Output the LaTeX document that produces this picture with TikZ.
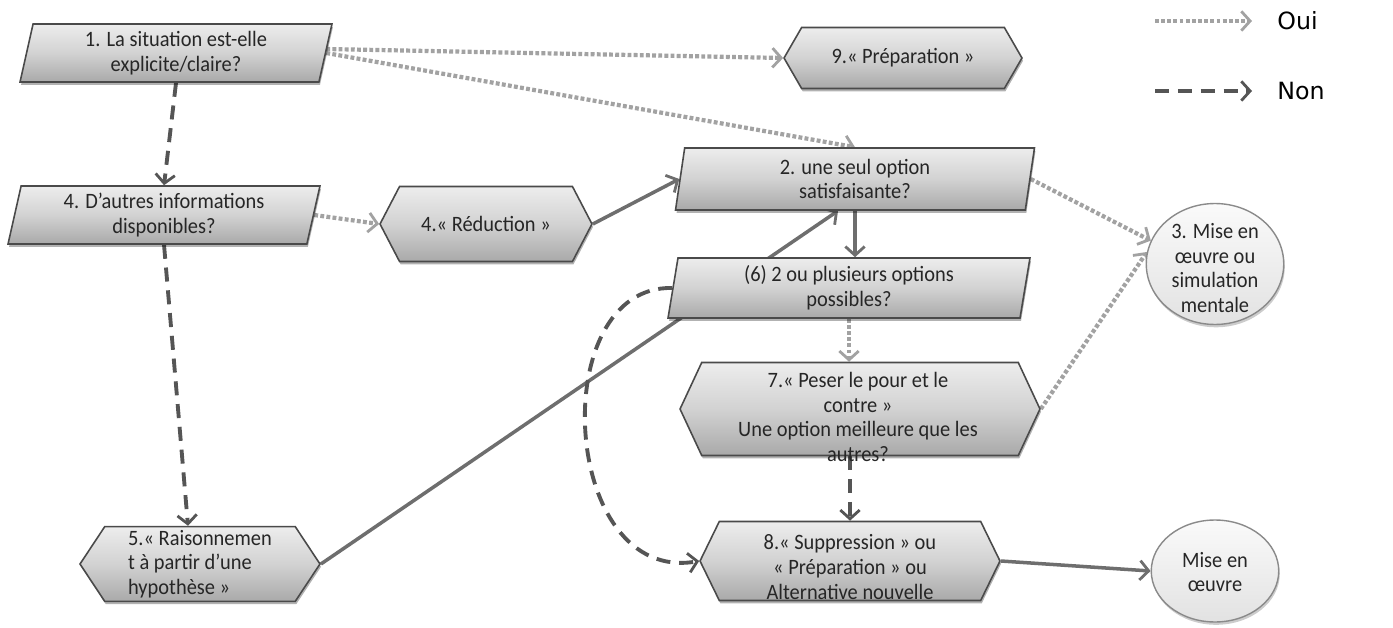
\documentclass[tikz,border=0pt]{standalone}
\usepackage{fontspec}
\setmainfont{Carlito}[FakeStretch=0.93]
\newfontfamily\legendfont{DejaVu Sans}
\usetikzlibrary{shapes.geometric,shapes.symbols,arrows.meta,shadows,calc}
\definecolor{boxline}{HTML}{4A4A4A}
\definecolor{boxtop}{HTML}{EDEDED}
\definecolor{boxmid}{HTML}{D2D2D2}
\definecolor{boxbot}{HTML}{A9A9A9}
\definecolor{elltop}{HTML}{FAFAFA}
\definecolor{ellbot}{HTML}{E2E2E2}
\definecolor{ellline}{HTML}{8A8A8A}
\definecolor{textcol}{HTML}{262626}
\definecolor{ouicol}{HTML}{A2A2A2}
\definecolor{noncol}{HTML}{555555}
\definecolor{solidcol}{HTML}{6E6E6E}
\pgfdeclarelayer{bg}
\pgfsetlayers{bg,main}
\begin{document}
\begin{tikzpicture}[x=0.02cm,y=-0.02cm,
  font=\fontsize{12.5}{14}\selectfont,
  base/.style={draw=boxline, line width=0.9pt, top color=boxtop, bottom color=boxbot, middle color=boxmid,
    text=textcol, align=center, inner sep=2pt,
    drop shadow={shadow xshift=0.6pt, shadow yshift=-1.6pt, opacity=0.3, fill=black}},
  paraA/.style={base, trapezium, trapezium stretches body, trapezium left angle=75.5, trapezium right angle=104.5},
  paraB/.style={base, trapezium, trapezium stretches body, trapezium left angle=79, trapezium right angle=101},
  hexa/.style={base, signal, signal to=east and west, signal pointer angle=#1},
  oval/.style={ellipse, draw=ellline, line width=0.8pt, top color=elltop, bottom color=ellbot,
    inner sep=0pt,
    drop shadow={shadow xshift=0.6pt, shadow yshift=-1.6pt, opacity=0.2, fill=black}},
  txt/.style={text=textcol, align=center, inner sep=0pt},
  tip/.style={-{Straight Barb[length=5pt,width=11pt,line width=1.6pt]}},
  oui/.style={tip, draw=ouicol, line width=2.4pt, dash pattern=on 2.2pt off 1.3pt},
  non/.style={tip, draw=noncol, line width=2.2pt, dash pattern=on 8pt off 5pt},
  plain/.style={tip, draw=solidcol, line width=2pt},
]
\useasboundingbox (0,0) rectangle (1393,628);

% nodes
\node[paraA, minimum width=6.24cm, minimum height=1.16cm] (n1) at (176,53) {1. La situation est-elle\\explicite/claire?};
\node[hexa=120, minimum width=4.76cm, minimum height=1.22cm] (n9) at (903,58) {9.« Préparation »};
\node[paraA, minimum width=6.24cm, minimum height=1.16cm] (n4) at (164,215) {4. D’autres informations\\disponibles?};
\node[hexa=125, minimum width=4.24cm, minimum height=1.5cm] (r4) at (486,224) {4.« Réduction »};
\node[paraB, minimum width=7.18cm, minimum height=1.24cm] (n2) at (855,179) {2. une seul option\\satisfaisante?};
\node[paraB, minimum width=7.24cm, minimum height=1.2cm] (n6) at (849,288) {(6) 2 ou plusieurs options\\possibles?};
\node[oval, minimum width=2.75cm, minimum height=2.42cm] (n3) at (1215,264) {};
\node[txt] (n3t) at (1215,268) {3. Mise en\\œuvre ou\\simulation\\mentale};
\node[hexa=130, minimum width=7.2cm, minimum height=1.86cm] (n7) at (860,409) {};
\node[txt] (n7t) at (858,417) {7.« Peser le pour et le\\contre »\\Une option meilleure que les\\autres?};
\node[hexa=113, minimum width=4.8cm, minimum height=1.42cm, align=left] (n5) at (200,564) {5.« Raisonnemen\\t à partir d’une\\hypothèse »};
\node[hexa=128, minimum width=6.0cm, minimum height=1.58cm] (n8) at (850,561) {};
\node[txt] (n8t) at (850,567) {8.« Suppression » ou\\« Préparation » ou\\Alternative nouvelle};
\node[oval, minimum width=2.55cm, minimum height=2.04cm] (n10) at (1215,571) {};
\node[txt] (n10t) at (1215,572) {Mise en\\œuvre};

% legend
\coordinate (lo1) at (1155,21);
\coordinate (lo2) at (1252,21);
\node[anchor=west, font=\legendfont\fontsize{13.5}{15}\selectfont, text=black, inner sep=0pt] (oui) at (1277,21) {Oui};
\coordinate (ln1) at (1155,91);
\coordinate (ln2) at (1252,91);
\node[anchor=west, font=\legendfont\fontsize{13.5}{15}\selectfont, text=black, inner sep=0pt] (non) at (1277,91) {Non};

\begin{pgfonlayer}{bg}
\draw[oui] (lo1) -- (lo2);
\draw[non] (ln1) -- (ln2);
% connectors
\draw[oui] ([yshift=0.08cm]n1.east) -- (n9.west);
\draw[oui] (n1.east) -- (n2.north);
\draw[non] (n1.south) -- (n4.north);
\draw[oui] (n4.east) -- (r4.west);
\draw[plain] (r4.east) -- (n2.west);
\draw[oui] (n2.east) -- (n3.160);
\draw[oui] (n7.east) -- (n3.170);
\draw[plain] (n2.south) -- (n2.south |- n6.north);
\draw[plain] (n5.east) -- ([xshift=-0.34cm]n2.south);
\draw[oui] (n6.south) -- (n6.south |- n7.north);
\draw[non] (n8.north |- n7.south) -- (n8.north);
\draw[non] (n6.west) .. controls (545,285) and (560,585) .. (n8.west);
\draw[non] (n4.south) -- ([xshift=-0.24cm]n5.north);
\draw[plain] (n8.east) -- (n10.west);
\end{pgfonlayer}
\end{tikzpicture}
\end{document}
